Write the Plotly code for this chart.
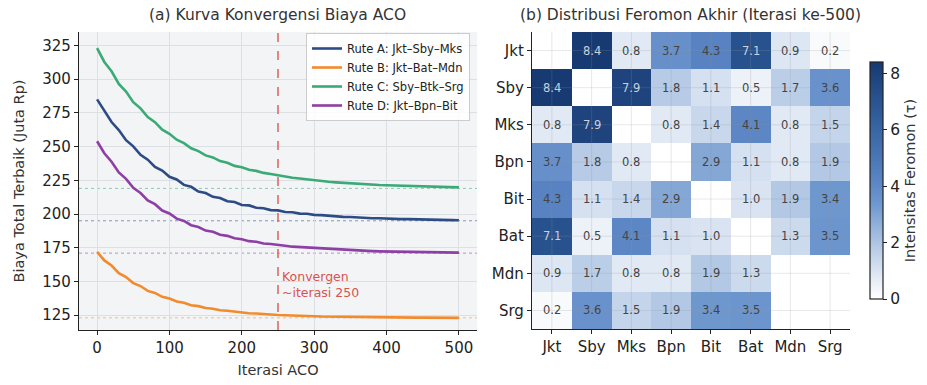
import plotly.graph_objects as go

# ---------------- data ----------------
iterations = list(range(0, 501, 10))

route_names = ["Rute A: Jkt–Sby–Mks", "Rute B: Jkt–Bat–Mdn",
               "Rute C: Sby–Btk–Srg", "Rute D: Jkt–Bpn–Bit"]

cost_a = [285.0, 276.9, 268.2, 262.3, 254.8, 250.2, 243.9, 240.3, 234.9, 232.2,
          227.6, 225.6, 221.6, 220.2, 216.7, 215.6, 212.8, 211.9, 209.5, 208.9,
          206.7, 206.4, 204.6, 204.3, 202.9, 202.7, 201.5, 201.3, 200.3, 200.2,
          199.4, 199.2, 198.6, 198.5, 197.9, 197.8, 197.4, 197.3, 196.9, 196.9,
          196.5, 196.5, 196.2, 196.2, 196.0, 195.9, 195.8, 195.7, 195.6, 195.5, 195.4]
cost_b = [172.0, 165.6, 161.8, 156.2, 153.3, 148.8, 146.6, 143.0, 141.5, 138.6,
          137.3, 135.1, 134.2, 132.4, 131.7, 130.3, 129.8, 128.7, 128.3, 127.5,
          127.1, 126.4, 126.2, 125.7, 125.5, 125.1, 124.9, 124.6, 124.5, 124.3,
          124.2, 124.0, 123.9, 123.8, 123.7, 123.6, 123.6, 123.5, 123.5, 123.4,
          123.3, 123.3, 123.3, 123.2, 123.2, 123.2, 123.1, 123.1, 123.1, 123.1, 123.0]
cost_c = [323.0, 312.8, 305.9, 296.5, 290.8, 283.0, 278.4, 271.9, 268.1, 262.6,
          259.5, 255.1, 252.6, 248.8, 246.7, 243.5, 242.0, 239.3, 238.0, 235.7,
          234.7, 232.9, 232.0, 230.5, 229.7, 228.6, 227.8, 226.9, 226.3, 225.6,
          225.0, 224.4, 223.9, 223.5, 223.1, 222.7, 222.4, 222.1, 221.8, 221.5,
          221.3, 221.1, 220.9, 220.7, 220.5, 220.4, 220.2, 220.1, 220.0, 219.9, 219.8]
cost_d = [254.0, 245.1, 238.8, 230.9, 226.1, 219.4, 215.6, 210.1, 207.3, 202.6,
          200.4, 196.6, 194.9, 191.7, 190.4, 187.7, 186.8, 184.6, 183.8, 182.0,
          181.3, 179.9, 179.4, 178.2, 177.8, 176.9, 176.5, 175.8, 175.5, 174.9,
          174.6, 174.1, 173.9, 173.5, 173.3, 173.0, 172.9, 172.6, 172.5, 172.3,
          172.2, 172.1, 172.0, 171.9, 171.8, 171.7, 171.6, 171.6, 171.5, 171.5, 171.4]

optimal_cost = [195, 123, 219, 171]
converge_iter = 250

cities = ["Jkt", "Sby", "Mks", "Bpn", "Bit", "Bat", "Mdn", "Srg"]
N = None
pheromone = [
    [N,   8.4, 0.8, 3.7, 4.3, 7.1, 0.9, 0.2],
    [8.4, N,   7.9, 1.8, 1.1, 0.5, 1.7, 3.6],
    [0.8, 7.9, N,   0.8, 1.4, 4.1, 0.8, 1.5],
    [3.7, 1.8, 0.8, N,   2.9, 1.1, 0.8, 1.9],
    [4.3, 1.1, 1.4, 2.9, N,   1.0, 1.9, 3.4],
    [7.1, 0.5, 4.1, 1.1, 1.0, N,   1.3, 3.5],
    [0.9, 1.7, 0.8, 0.8, 1.9, 1.3, N,   N],
    [0.2, 3.6, 1.5, 1.9, 3.4, 3.5, N,   N],
]

# ---------------- styles ----------------
colors = ["#2d4c85", "#f28a2e", "#3aaa76", "#8e3fa6"]
FONT = "DejaVu Sans"
W, H = 927, 385

def px_x(p):
    return p / W

def px_y(p):
    return 1 - p / H

fig = go.Figure()

for name, ys, col in zip(route_names, [cost_a, cost_b, cost_c, cost_d], colors):
    fig.add_trace(go.Scatter(x=iterations, y=ys, mode="lines", name=name,
                             line=dict(color=col, width=2.6),
                             xaxis="x", yaxis="y"))

# dotted optimum lines
for val, col in zip(optimal_cost, colors):
    fig.add_shape(type="line", xref="x domain", yref="y", x0=0, x1=1, y0=val, y1=val,
                  line=dict(color=col, width=1, dash="dot"), opacity=0.55, layer="below")

# convergence line
fig.add_shape(type="line", xref="x", yref="y domain", x0=converge_iter, x1=converge_iter,
              y0=0, y1=1, line=dict(color="#dc6159", width=1.5, dash="dash"))
fig.add_annotation(x=converge_iter + 3, y=148, xref="x", yref="y",
                   text="Konvergen<br>~iterasi " + str(converge_iter), showarrow=False,
                   xanchor="left", align="left",
                   font=dict(family=FONT, size=12.5, color="#d9534f"))

# white background under the heatmap (empty cells are white)
fig.add_shape(type="rect", xref="x2 domain", yref="y2 domain", x0=0, x1=1, y0=0, y1=1,
              fillcolor="white", line=dict(width=0), layer="below")

# heatmap
scale = [[0.0, "#ffffff"], [0.1, "#e0e8f4"], [0.2, "#bccfe8"], [0.4, "#6f98cf"],
         [0.5, "#5a84c3"], [0.75, "#33609f"], [1.0, "#173a72"]]
fig.add_trace(go.Heatmap(
    z=pheromone, x=cities, y=cities, xaxis="x2", yaxis="y2",
    colorscale=scale, zmin=0, zmax=8.4, xgap=0, ygap=0,
    hoverongaps=False,
    colorbar=dict(x=px_x(870), xanchor="left", xpad=0, ypad=0, thickness=13,
                  y=px_y(299), yanchor="bottom", len=237 / H, lenmode="fraction",
                  outlinewidth=1.2, outlinecolor="#222",
                  tickvals=[0, 2, 4, 6, 8], ticks="outside", ticklen=4, tickcolor="#222",
                  tickfont=dict(family=FONT, size=15.5, color="#222"),
                  title=dict(text="Intensitas Feromon (τ)", side="right",
                             font=dict(family=FONT, size=14.5, color="#333")))))

for i, row in enumerate(pheromone):
    for j, v in enumerate(row):
        if v is None:
            continue
        fig.add_annotation(x=cities[j], y=cities[i], xref="x2", yref="y2",
                           text=f"{v:.1f}", showarrow=False,
                           font=dict(family=FONT, size=11.5,
                                     color="#c9d1de" if v > 6 else "#444"))

# faint grid over heatmap
for k in range(len(cities)):
    fig.add_shape(type="line", xref="x2", yref="y2 domain", x0=k, x1=k, y0=0, y1=1,
                  line=dict(color="rgba(150,150,150,0.22)", width=1), layer="above")
    fig.add_shape(type="line", xref="x2 domain", yref="y2", x0=0, x1=1, y0=k, y1=k,
                  line=dict(color="rgba(150,150,150,0.22)", width=1), layer="above")

# titles
fig.add_annotation(x=px_x(277), y=px_y(15), xref="paper", yref="paper",
                   xanchor="center", yanchor="middle",
                   text="(a) Kurva Konvergensi Biaya ACO", showarrow=False,
                   font=dict(family=FONT, size=15.5, color="#333"))
fig.add_annotation(x=px_x(690), y=px_y(15), xref="paper", yref="paper",
                   xanchor="center", yanchor="middle",
                   text="(b) Distribusi Feromon Akhir (Iterasi ke-500)", showarrow=False,
                   font=dict(family=FONT, size=15.5, color="#333"))

axis_common = dict(showline=True, linecolor="#222", linewidth=1.3, ticks="outside",
                   ticklen=4, tickcolor="#222", tickfont=dict(family=FONT, size=15, color="#222"))

fig.update_layout(
    width=W, height=H, margin=dict(l=0, r=0, t=0, b=0, autoexpand=False),
    paper_bgcolor="white", plot_bgcolor="#f3f4f6",
    showlegend=True,
    legend=dict(x=px_x(470), y=px_y(33), xanchor="right", yanchor="top",
                bgcolor="rgba(255,255,255,0.85)", bordercolor="#cccccc", borderwidth=1,
                font=dict(family=FONT, size=11.5, color="#222"), tracegroupgap=0,
                itemwidth=30),
    xaxis=dict(domain=[px_x(79), px_x(477)], range=[-25, 525], tickvals=[0, 100, 200, 300, 400, 500],
               showgrid=True, gridcolor="#dcdfe4", zeroline=False, anchor="y",
               title=dict(text="Iterasi ACO", font=dict(family=FONT, size=14.5, color="#333"), standoff=8),
               **axis_common),
    yaxis=dict(domain=[px_y(330), px_y(32)], range=[114, 335],
               tickvals=[125, 150, 175, 200, 225, 250, 275, 300, 325],
               showgrid=True, gridcolor="#dcdfe4", zeroline=False, anchor="x",
               title=dict(text="Biaya Total Terbaik (Juta Rp)", font=dict(family=FONT, size=14.5, color="#333"), standoff=14),
               **axis_common),
    xaxis2=dict(domain=[px_x(532), px_x(850)], anchor="y2", showgrid=False, zeroline=False,
                **axis_common),
    yaxis2=dict(domain=[px_y(329), px_y(32)], anchor="x2", autorange="reversed",
                showgrid=False, zeroline=False, **axis_common),
)

fig.write_html("out.html", config={"displayModeBar": False},
               post_script="document.body.style.margin='0px';")
